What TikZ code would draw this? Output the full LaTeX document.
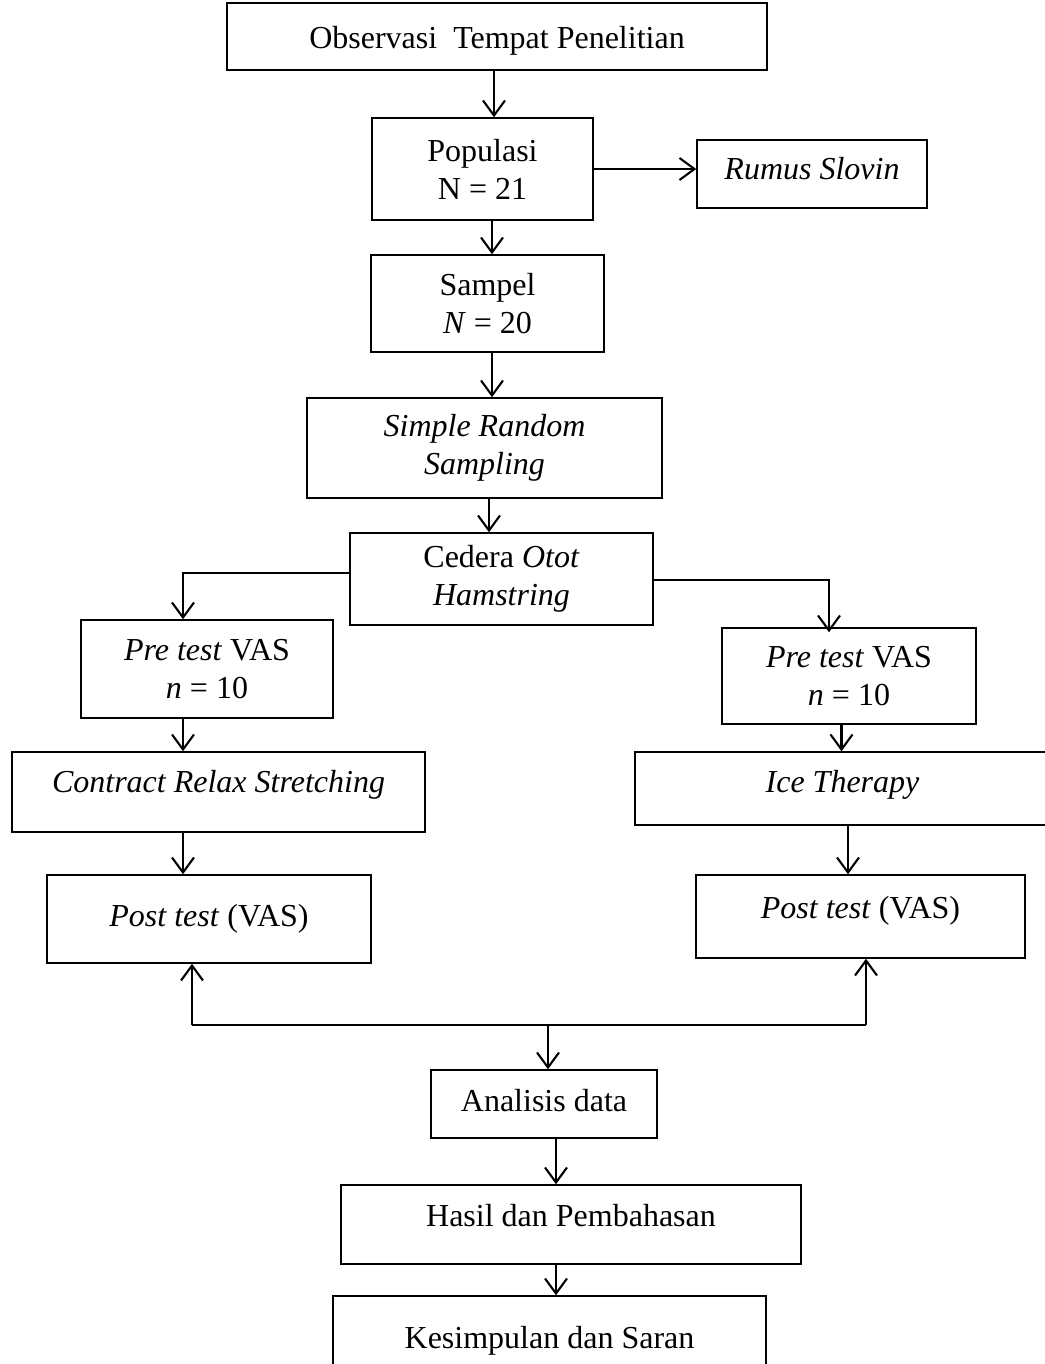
\documentclass[tikz,border=0pt]{standalone}
\usepackage{fontspec}
\setmainfont{Liberation Serif}
\usepackage{tikz}
\usetikzlibrary{arrows.meta,positioning,calc}
\tikzset{box/.style={draw,rectangle,line width=1.5pt,align=center,inner sep=0pt,
  font=\fontsize{32}{38}\selectfont},
  lift/.style={text depth=#1},
  link/.style={line width=2.1pt,->}}

\begin{document}
\begin{tikzpicture}[x=1pt,y=-1pt,>={Straight Barb[length=15pt,width=22pt]}]
\useasboundingbox (0,0) rectangle (1044,1364);
\node[box,minimum width=540,minimum height=67,text height=30pt] (obs) at (497,36.5) {Observasi\ \ Tempat Penelitian};
\node[box,minimum width=221,minimum height=102] (pop) at (482.5,169) {Populasi\\N = 21};
\node[box,minimum width=230,minimum height=68,lift=12pt] (slovin) at (812,174) {\textit{Rumus Slovin}};
\node[box,minimum width=233,minimum height=97] (sampel) at (487.5,303.5) {Sampel\\\textit{N} = 20};
\node[box,minimum width=355,minimum height=100] (srs) at (484.5,448) {\textit{Simple Random}\\\textit{Sampling}};
\node[box,minimum width=303,minimum height=92] (cedera) at (501.5,579) {Cedera \textit{Otot}\\\textit{Hamstring}};
\node[box,minimum width=252,minimum height=98] (preL) at (207,669) {\textit{Pre test} VAS\\\textit{n} = 10};
\node[box,minimum width=254,minimum height=96] (preR) at (849,676) {\textit{Pre test} VAS\\\textit{n} = 10};
\node[box,minimum width=413,minimum height=80,lift=22pt] (crs) at (218.5,792) {\textit{Contract Relax Stretching}};
\node[box,minimum width=415,minimum height=73,lift=14pt] (ice) at (842.5,788.5) {\textit{Ice Therapy}};
\node[box,minimum width=324,minimum height=88,lift=8pt] (postL) at (209,919) {\textit{Post test} (VAS)};
\node[box,minimum width=329,minimum height=83,lift=18pt] (postR) at (860.5,916.5) {\textit{Post test} (VAS)};
\node[box,minimum width=226,minimum height=68,lift=8pt] (anal) at (544,1104) {Analisis data};
\node[box,minimum width=460,minimum height=79,lift=18pt] (hasil) at (571,1224.5) {Hasil dan Pembahasan};
\node[box,minimum width=433,minimum height=84,text height=28pt] (kes) at (549.5,1338) {Kesimpulan dan Saran};
\coordinate (join) at (548,1025);
% alur utama
\draw[link] ([xshift=11.5pt]pop.north |- obs.south) -- ([xshift=11.5pt]pop.north);
\draw[link] (pop.east) -- (pop.east -| slovin.west);
\draw[link] ([xshift=4.5pt]sampel.north |- pop.south) -- ([xshift=4.5pt]sampel.north);
\draw[link] ([xshift=7.5pt]srs.north |- sampel.south) -- ([xshift=7.5pt]srs.north);
\draw[link] ([xshift=-12.5pt]cedera.north |- srs.south) -- ([xshift=-12.5pt]cedera.north);
% cabang kiri dan kanan
\draw[link] ([yshift=6pt]cedera.west) -| ([xshift=-24pt]preL.north);
\draw[link] ([yshift=-1pt]cedera.east) -| ([xshift=-20pt,yshift=-5pt]preR.north);
\draw[link] ([xshift=-35.5pt]crs.north |- preL.south) -- ([xshift=-35.5pt]crs.north);
\draw[link] ([xshift=-1pt]ice.north |- preR.south) -- ([xshift=-1pt]ice.north);
\draw[link] ([xshift=-26pt]postL.north |- crs.south) -- ([xshift=-26pt]postL.north);
\draw[link] ([xshift=-12.5pt]postR.north |- ice.south) -- ([xshift=-12.5pt]postR.north);
% analisis
\draw[line width=2.1pt] ([xshift=-17pt]postL.south |- join) -- ([xshift=5.5pt]postR.south |- join);
\draw[link] ([xshift=-17pt]postL.south |- join) -- ([xshift=-17pt]postL.south);
\draw[link] ([xshift=5.5pt]postR.south |- join) -- ([xshift=5.5pt]postR.south);
\draw[link] (join) -- (anal.north -| join);
\draw[link] ([xshift=-15pt]hasil.north |- anal.south) -- ([xshift=-15pt]hasil.north);
\draw[link] ([xshift=6.5pt]kes.north |- hasil.south) -- ([xshift=6.5pt]kes.north);
\end{tikzpicture}
\end{document}
